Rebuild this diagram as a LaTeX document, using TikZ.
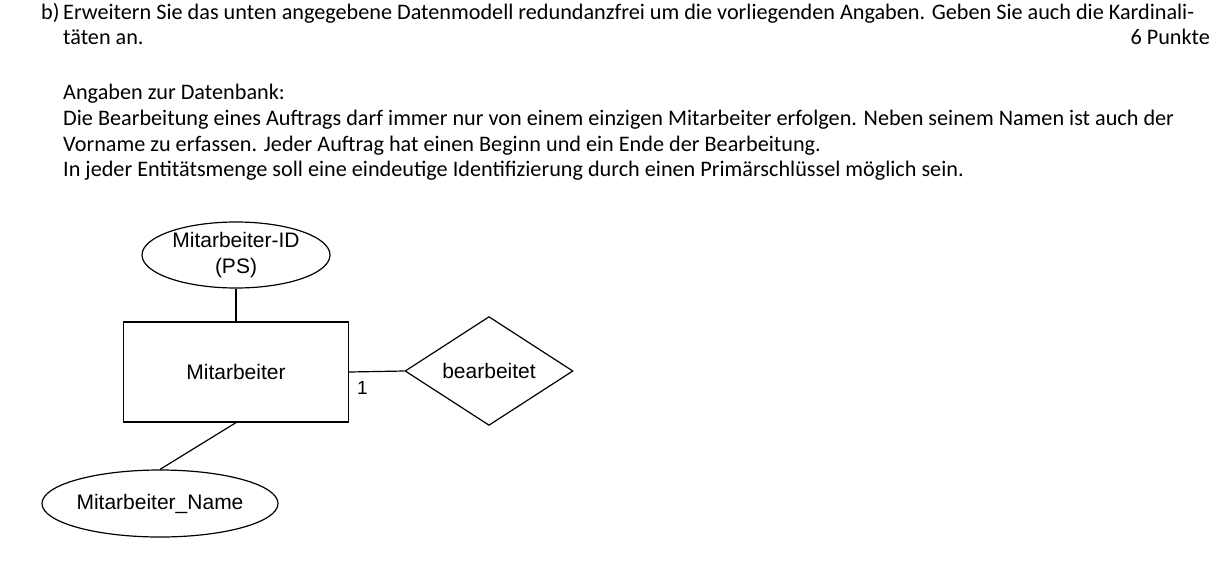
\documentclass[tikz,border=0pt]{standalone}
\usepackage{fontspec}
\setmainfont{Carlito}
\newfontfamily\diafont{Liberation Sans}
\usetikzlibrary{shapes.geometric}
\tikzset{
  hdr/.style={anchor=base west, inner sep=0pt, font=\fontsize{22.2}{26}\selectfont},
  dia/.style={font=\diafont\fontsize{21}{25}\selectfont, inner sep=0pt},
  attr/.style={dia, draw, ellipse, line width=1.2pt},
  entity/.style={dia, draw, rectangle, line width=1.2pt},
  rel/.style={dia, draw, diamond, line width=1.2pt},
  conn/.style={line width=1.2pt},
}
\begin{document}
\begin{tikzpicture}[x=1pt,y=-1pt]
\path[use as bounding box] (0,0) rectangle (1217,560);
% header text
\node[hdr] (lb) at (41,19) {b)};
\node[hdr] (l1) at (63,19) {Erweitern Sie das unten angegebene Datenmodell redundanzfrei um die vorliegenden Angaben. Geben Sie auch die Kardinali-};
\node[hdr] (l2) at (63,44) {täten an.};
\node[hdr, anchor=base east] (pts) at (1210,44) {6 Punkte};
\node[hdr] (l3) at (63,99) {Angaben zur Datenbank:};
\node[hdr] (l4) at (63,125) {Die Bearbeitung eines Auftrags darf immer nur von einem einzigen Mitarbeiter erfolgen. Neben seinem Namen ist auch der};
\node[hdr] (l5) at (63,151) {Vorname zu erfassen. Jeder Auftrag hat einen Beginn und ein Ende der Bearbeitung.};
\node[hdr] (l6) at (63,176) {In jeder Entitätsmenge soll eine eindeutige Identifizierung durch einen Primärschlüssel möglich sein.};
% diagram
\node[attr, minimum width=188pt, minimum height=66pt, align=center] (pk) at (236,255) {Mitarbeiter-ID\\[1pt](PS)};
\node[entity, minimum width=225pt, minimum height=100pt] (ent) at (236,372) {Mitarbeiter};
\node[rel, minimum width=168pt, minimum height=98pt] (rl) at (489,371) {bearbeitet};
\node[attr, minimum width=200pt, minimum height=67pt] (nm) at (160,503.5) {Mitarbeiter\_Name};
\draw[conn] (pk.south) -- (ent.north);
\draw[conn] (ent.east) -- (rl.west);
\draw[conn] (ent.south) -- (nm.north);
\node[dia, anchor=base west, font=\diafont\fontsize{19}{23}\selectfont] (card) at (357,394) {1};
\end{tikzpicture}
\end{document}
